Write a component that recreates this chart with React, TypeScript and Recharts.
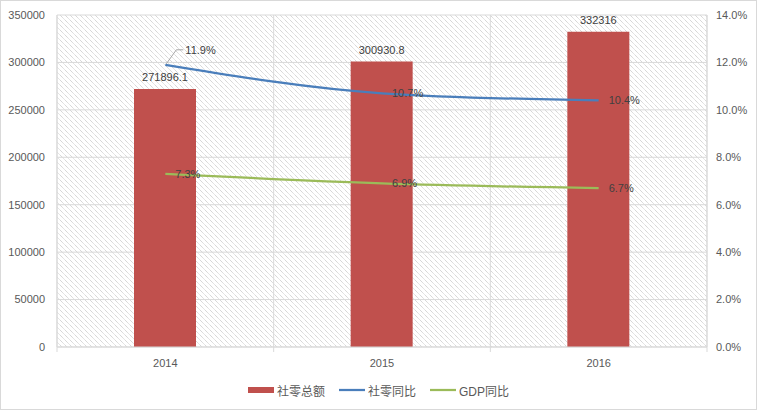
import React from 'react';
import {
  ComposedChart, Bar, Line, XAxis, YAxis, CartesianGrid, Legend, LabelList,
} from 'recharts';

const years = ['2014', '2015', '2016'];
const retailTotal = [271896.1, 300930.8, 332316];
const retailYoY = [11.9, 10.7, 10.4];
const gdpYoY = [7.3, 6.9, 6.7];
const leftTicks = [0, 50000, 100000, 150000, 200000, 250000, 300000, 350000];
const rightTicks = [0, 2, 4, 6, 8, 10, 12, 14];

const seriesNames = { total: '社零总额', retail: '社零同比', gdp: 'GDP同比' };
const colors = { total: '#c0504d', retail: '#4a7ebb', gdp: '#9bbb59' };

const data = years.map((y, i) => ({
  year: y,
  total: retailTotal[i],
  retail: retailYoY[i],
  gdp: gdpYoY[i],
}));

const W = 757;
const H = 410;
const LEFT_W = 57;
const RIGHT_W = 50;
const PLOT_W = W - LEFT_W - RIGHT_W;
const BAND = PLOT_W / years.length;

const FONT = '"Liberation Sans", "Noto Sans CJK SC", sans-serif';
const TEXT = '#595959';
const LABEL = '#404040';
const GRID = '#d9d9d9';

const XTick = (props: any) => {
  const { x, y, payload, index } = props;
  const axisY = y - 11;
  return (
    <g>
      <line x1={x - BAND / 2} x2={x - BAND / 2} y1={axisY} y2={axisY + 5} stroke={GRID} />
      {index === years.length - 1 && (
        <line x1={x + BAND / 2} x2={x + BAND / 2} y1={axisY} y2={axisY + 5} stroke={GRID} />
      )}
      <text x={x} y={y + 9} textAnchor="middle" fill={TEXT} fontSize={11} fontFamily={FONT}>
        {payload.value}
      </text>
    </g>
  );
};

const makeLineLabel = (leaderFirst: boolean) => (props: any) => {
  const { x, y, value, index } = props;
  const txt = `${Number(value).toFixed(1)}%`;
  if (leaderFirst && index === 0) {
    return (
      <g>
        <polyline
          points={`${x + 1},${y - 1} ${x + 11},${y - 15} ${x + 18},${y - 15}`}
          fill="none"
          stroke="#a6a6a6"
          strokeWidth={1}
        />
        <text x={x + 20} y={y - 15} dy="0.35em" fill={LABEL} fontSize={11} fontFamily={FONT}>
          {txt}
        </text>
      </g>
    );
  }
  return (
    <text x={x + 10} y={y} dy="0.35em" fill={LABEL} fontSize={11} fontFamily={FONT}>
      {txt}
    </text>
  );
};

const BarLabel = (props: any) => {
  const { x, y, width, value } = props;
  return (
    <text x={x + width / 2} y={y - 8} textAnchor="middle" fill={LABEL} fontSize={11} fontFamily={FONT}>
      {String(value)}
    </text>
  );
};

const LegendContent = () => {
  const items = [
    { key: 'total', type: 'rect' },
    { key: 'retail', type: 'line' },
    { key: 'gdp', type: 'line' },
  ] as const;
  return (
    <div style={{ display: 'flex', justifyContent: 'center', alignItems: 'center', height: 20, fontFamily: FONT, fontSize: 12, color: TEXT }}>
      {items.map((it, i) => (
        <div key={it.key} style={{ display: 'flex', alignItems: 'center', marginLeft: i === 0 ? 0 : 14 }}>
          <svg width={26} height={8} style={{ marginRight: 3 }}>
            {it.type === 'rect' ? (
              <rect x={0} y={1} width={26} height={6} fill={(colors as any)[it.key]} />
            ) : (
              <line x1={0} x2={26} y1={4} y2={4} stroke={(colors as any)[it.key]} strokeWidth={2.25} />
            )}
          </svg>
          <span>{(seriesNames as any)[it.key]}</span>
        </div>
      ))}
    </div>
  );
};

export default function App() {
  return (
    <div style={{ position: 'fixed', left: 0, top: 0, width: W, height: H, background: '#fff' }}>
      <ComposedChart
        width={W}
        height={H}
        data={data}
        margin={{ top: 15, right: 0, bottom: 10, left: 0 }}
        barCategoryGap={0}
      >
        <defs>
          <pattern id="hatch" patternUnits="userSpaceOnUse" width={5} height={5}>
            <path d="M0,0 L5,5 M-1,4 L1,6 M4,-1 L6,1" stroke="#b8b8b8" strokeWidth={0.8} strokeDasharray="1 0.7" />
          </pattern>
        </defs>
        <CartesianGrid
          yAxisId="left"
          stroke={GRID}
          fill="url(#hatch)"
          fillOpacity={1}
          verticalCoordinatesGenerator={(p: any) => {
            const left = p?.offset?.left ?? LEFT_W;
            return years.map((_, i) => left + i * BAND).concat([left + PLOT_W]);
          }}
        />
        <XAxis
          dataKey="year"
          height={33}
          axisLine={{ stroke: GRID }}
          tickLine={false}
          tickSize={5}
          tickMargin={6}
          tick={<XTick />}
          interval={0}
        />
        <YAxis
          yAxisId="left"
          orientation="left"
          width={LEFT_W}
          domain={[0, 350000]}
          ticks={leftTicks}
          interval={0}
          axisLine={{ stroke: GRID }}
          tickLine={false}
          tickSize={6}
          tickMargin={6}
          tick={{ fill: TEXT, fontSize: 11, fontFamily: FONT }}
        />
        <YAxis
          yAxisId="right"
          orientation="right"
          width={RIGHT_W}
          domain={[0, 14]}
          ticks={rightTicks}
          interval={0}
          axisLine={{ stroke: GRID }}
          tickLine={false}
          tickSize={4}
          tickMargin={5}
          tickFormatter={(v: number) => `${v.toFixed(1)}%`}
          tick={{ fill: TEXT, fontSize: 11, fontFamily: FONT }}
        />
        <Legend verticalAlign="bottom" height={20} content={<LegendContent />} />
        <Bar
          yAxisId="left"
          dataKey="total"
          name={seriesNames.total}
          fill={colors.total}
          barSize={62}
          isAnimationActive={false}
        >
          <LabelList dataKey="total" content={<BarLabel />} />
        </Bar>
        <Line
          yAxisId="right"
          type="monotone"
          dataKey="retail"
          name={seriesNames.retail}
          stroke={colors.retail}
          strokeWidth={2.25}
          dot={false}
          isAnimationActive={false}
        >
          <LabelList dataKey="retail" content={makeLineLabel(true)} />
        </Line>
        <Line
          yAxisId="right"
          type="monotone"
          dataKey="gdp"
          name={seriesNames.gdp}
          stroke={colors.gdp}
          strokeWidth={2.25}
          dot={false}
          isAnimationActive={false}
        >
          <LabelList dataKey="gdp" content={makeLineLabel(false)} />
        </Line>
      </ComposedChart>
      <div style={{ position: 'absolute', left: 0, top: 0, width: W, height: H, boxSizing: 'border-box', border: '1px solid #d9d9d9', pointerEvents: 'none' }} />
    </div>
  );
}
